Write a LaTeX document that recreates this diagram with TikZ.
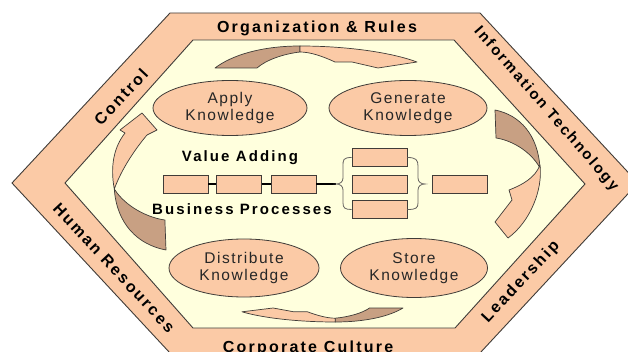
\documentclass[tikz,border=0pt]{standalone}
\usepackage{fontspec}
\usetikzlibrary{shapes.geometric}
\setmainfont{Liberation Sans}
\newfontfamily\widefont[LetterSpace=14]{Liberation Sans}
\newfontfamily\knowfont[LetterSpace=10]{Liberation Sans}
\definecolor{peach}{RGB}{251,202,166}
\definecolor{cream}{RGB}{255,255,221}
\definecolor{tan}{RGB}{200,160,131}
\definecolor{edge}{RGB}{64,60,56}
\tikzset{
  band/.style={fill=peach, draw=edge, line width=0.9pt, line join=miter},
  field/.style={fill=cream, draw=edge, line width=0.9pt},
  bandtxt/.style={font=\widefont\bfseries\fontsize{16}{18}\selectfont, inner sep=0pt},
  know/.style={ellipse, fill=peach, draw=edge, line width=0.8pt, inner sep=0pt,
               font=\knowfont\fontsize{15.5}{18}\selectfont, align=center, text=black!85},
  procbox/.style={rectangle, fill=peach, draw=edge, line width=0.9pt, minimum width=45pt,
                  minimum height=18pt, inner sep=0pt},
  proclink/.style={line width=2.6pt, black},
  bracel/.style={draw=edge!80, line width=0.8pt},
  cyclelight/.style={fill=peach, draw=edge, line width=0.7pt, line join=round},
  cycledark/.style={fill=tan, draw=edge, line width=0.7pt, line join=round},
  heading/.style={font=\widefont\bfseries\fontsize{15}{18}\selectfont, inner sep=0pt}
}
\begin{document}
\begin{tikzpicture}[x=1pt,y=-1pt]
  \fill[white] (0,0) rectangle (628,352);
  \useasboundingbox (0,0) rectangle (628,352);
  \clip (0,0) rectangle (628,352);

  % outer frame and inner field
  \draw[band] (12,183) -- (170,13) -- (480,13) -- (638,183) -- (480,353) -- (170,353) -- cycle;
  \draw[field] (65,183) -- (193,40) -- (454,40) -- (585,184) -- (455,328) -- (193,328) -- cycle;

  % labels on the frame
  \node[bandtxt, anchor=base] (org) at (317,33) {Organization \& Rules};
  \node[bandtxt, anchor=base] (cult) at (308,352.5) {Corporate Culture};
  \node[bandtxt, rotate=47] (ctl) at (121,97) {Control};
  \node[bandtxt, rotate=-49, font=\widefont\bfseries\fontsize{15}{18}\selectfont] (it) at (546,109) {Information Technology};
  \node[bandtxt, rotate=-47] (hr) at (114,268) {Human Resources};
  \node[bandtxt, rotate=47] (lead) at (521,282) {Leadership};

  % knowledge activities
  \node[know, minimum width=154pt, minimum height=55pt] (apply) at (230,108) {Apply\\[-1pt]Knowledge};
  \node[know, minimum width=158pt, minimum height=55pt] (gen) at (408,108) {Generate\\[-1pt]Knowledge};
  \node[know, minimum width=150pt, minimum height=58pt] (dist) at (244,268) {Distribute\\[-1pt]Knowledge};
  \node[know, minimum width=147pt, minimum height=59pt] (store) at (414,268) {Store\\[-1pt]Knowledge};

  % cycle arrows: top (apply -> generate)
  \draw[cycledark] (215,68) .. controls (232,55) and (262,46) .. (300,46)
        -- (300,52) .. controls (283,54) and (266,60) .. (257,68) -- cycle;
  \draw[cyclelight] (300,46) .. controls (345,46) and (390,52) .. (417,62) -- (378,68) -- (352,62)
        -- (335,62) .. controls (322,56) and (310,52) .. (300,52) -- cycle;
  % right (generate -> store)
  \draw[cycledark] (495,110) .. controls (520,115) and (538,135) .. (540,168)
        .. controls (530,150) and (510,140) .. (496,138) -- cycle;
  \draw[cyclelight] (540,165) .. controls (543,190) and (530,222) .. (508,238) -- (495,222)
        -- (512,200) -- (509,190) .. controls (522,185) and (535,178) .. (540,165) -- cycle;
  % bottom (store -> distribute)
  \draw[cycledark] (403,308) .. controls (389.5,316.3) and (365.5,322) .. (335.3,322)
        -- (335.3,318.2) .. controls (348.8,316.9) and (362.4,313.1) .. (369.5,308) -- cycle;
  \draw[cyclelight] (335.3,322) .. controls (299.4,322) and (263.5,318.2) .. (242,311.8)
        -- (273.1,308) -- (293.8,311.8) -- (307.4,311.8)
        .. controls (317.7,315.6) and (327.3,318.2) .. (335.3,318.2) -- cycle;
  % left (distribute -> apply)
  \draw[cycledark] (166,250) .. controls (137.3,244.7) and (116.6,223.3) .. (114.3,189)
        .. controls (125.8,207.2) and (148.8,217.9) .. (164.9,220) -- cycle;
  \draw[cyclelight] (114.3,189) .. controls (110,166) and (114,147) .. (125,133)
        -- (120,130) -- (142,113) -- (157,130) -- (147,135)
        .. controls (136,148) and (122,168) .. (114.3,189) -- cycle;

  % value adding business processes
  \node[heading, anchor=base] (va) at (240,162) {Value Adding};
  \node[heading, anchor=base] (bp) at (242,215) {Business Processes};
  \node[procbox] (p1) at (185.5,184) {};
  \node[procbox] (p2) at (239,184) {};
  \node[procbox] (p3) at (293.5,184) {};
  \node[procbox, minimum width=55pt] (q1) at (379.5,157.5) {};
  \node[procbox, minimum width=55pt] (q2) at (379.5,184) {};
  \node[procbox, minimum width=55pt] (q3) at (379.5,209.5) {};
  \node[procbox, minimum width=55pt] (r1) at (459.5,184) {};
  \coordinate (bl) at (336,184);
  \coordinate (br) at (425,184);
  \draw[proclink] (p1) -- (p2);
  \draw[proclink] (p2) -- (p3);
  \draw[proclink] (p3) -- (bl);
  % braces
  \draw[bracel] (q1.west) .. controls (343,157.5) and (343,160) .. (343,166) -- (343,178)
        .. controls (343,182) and (340,184) .. (bl)
        .. controls (340,184) and (343,186) .. (343,190) -- (343,203)
        .. controls (343,208) and (345,209.5) .. (q3.west);
  \draw[bracel] (q1.east) .. controls (416,157.5) and (418,160) .. (418,166) -- (418,178)
        .. controls (418,182) and (421,184) .. (br)
        .. controls (421,184) and (418,186) .. (418,190) -- (418,203)
        .. controls (418,208) and (416,209.5) .. (q3.east);
\end{tikzpicture}
\end{document}
